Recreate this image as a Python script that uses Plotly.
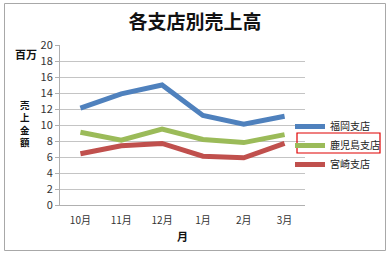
import plotly.graph_objects as go

months = ["10月", "11月", "12月", "1月", "2月", "3月"]
series_names = ["福岡支店", "鹿児島支店", "宮崎支店"]
fukuoka = [12.1, 13.9, 15.0, 11.2, 10.1, 11.1]
kagoshima = [9.1, 8.1, 9.5, 8.2, 7.8, 8.8]
miyazaki = [6.4, 7.4, 7.7, 6.1, 5.9, 7.7]
y_ticks = list(range(0, 21, 2))
title_text = "各支店別売上高"
unit_text = "百万"
y_title_chars = list("売上金額")
x_title_text = "月"

colors = ["#4f81bd", "#9bbb59", "#c0504d"]
font_jp = "Noto Sans CJK JP"

W, H = 390, 254
L, R, T, B = 60, 305, 45, 205

def px(x):
    return (x - L) / (R - L)

def py(y):
    return (B - y) / (B - T)

fig = go.Figure()
for name, vals, c in zip(series_names, [fukuoka, kagoshima, miyazaki], colors):
    fig.add_trace(go.Scatter(x=months, y=vals, name=name, mode="lines",
                             line=dict(color=c, width=5)))

fig.update_layout(
    width=W, height=H,
    margin=dict(l=L, r=W - R, t=T, b=H - B, autoexpand=False),
    paper_bgcolor="white", plot_bgcolor="white",
    font=dict(family=font_jp, size=10, color="#333"),
    showlegend=True,
    legend=dict(x=px(290), y=py(112), xanchor="left", yanchor="top",
                font=dict(family=font_jp, size=10, color="#222"),
                bgcolor="rgba(0,0,0,0)", itemwidth=30, tracegroupgap=0),
    title=dict(text="<b>" + title_text + "</b>", x=0.5, xref="container", xanchor="center",
               y=1 - 22 / H, yanchor="middle", yref="container",
               font=dict(family=font_jp, size=19, color="#111")),
    xaxis=dict(type="category", range=[-0.5, 5.5], showgrid=False,
               showline=True, linecolor="#b0b0b0", linewidth=1,
               ticks="", ticklabelstandoff=6,
               tickfont=dict(size=10, color="#333"), fixedrange=True),
    yaxis=dict(range=[0, 20], tickvals=y_ticks, showgrid=True, gridcolor="#c4c4c4",
               gridwidth=1, showline=True, linecolor="#b0b0b0", linewidth=1,
               ticks="outside", ticklen=4, tickcolor="#b0b0b0",
               tickfont=dict(size=11, color="#333"), zeroline=False, fixedrange=True),
)

# chart border
fig.add_shape(type="rect", xref="paper", yref="paper",
              x0=px(4.5), x1=px(385.5), y0=py(250.5), y1=py(3.5),
              line=dict(color="#a8a8a8", width=1), layer="below")

# red box around legend item
fig.add_shape(type="rect", xref="paper", yref="paper",
              x0=px(297), x1=px(380), y0=py(153), y1=py(133),
              line=dict(color="#e00000", width=1.2))

fig.add_annotation(text="<b>" + unit_text + "</b>", xref="paper", yref="paper",
                   x=px(26), y=py(54), showarrow=False, xanchor="center", yanchor="middle",
                   font=dict(family=font_jp, size=11, color="#111"))
fig.add_annotation(text="<br>".join("<b>" + ch + "</b>" for ch in y_title_chars),
                   xref="paper", yref="paper",
                   x=px(25), y=py(123), showarrow=False,
                   xanchor="center", yanchor="middle",
                   font=dict(family=font_jp, size=9.5, color="#111"))
fig.add_annotation(text="<b>" + x_title_text + "</b>", xref="paper", yref="paper",
                   x=px(182), y=py(236), showarrow=False, xanchor="center", yanchor="middle",
                   font=dict(family=font_jp, size=11, color="#111"))

fig.write_html("out.html")
